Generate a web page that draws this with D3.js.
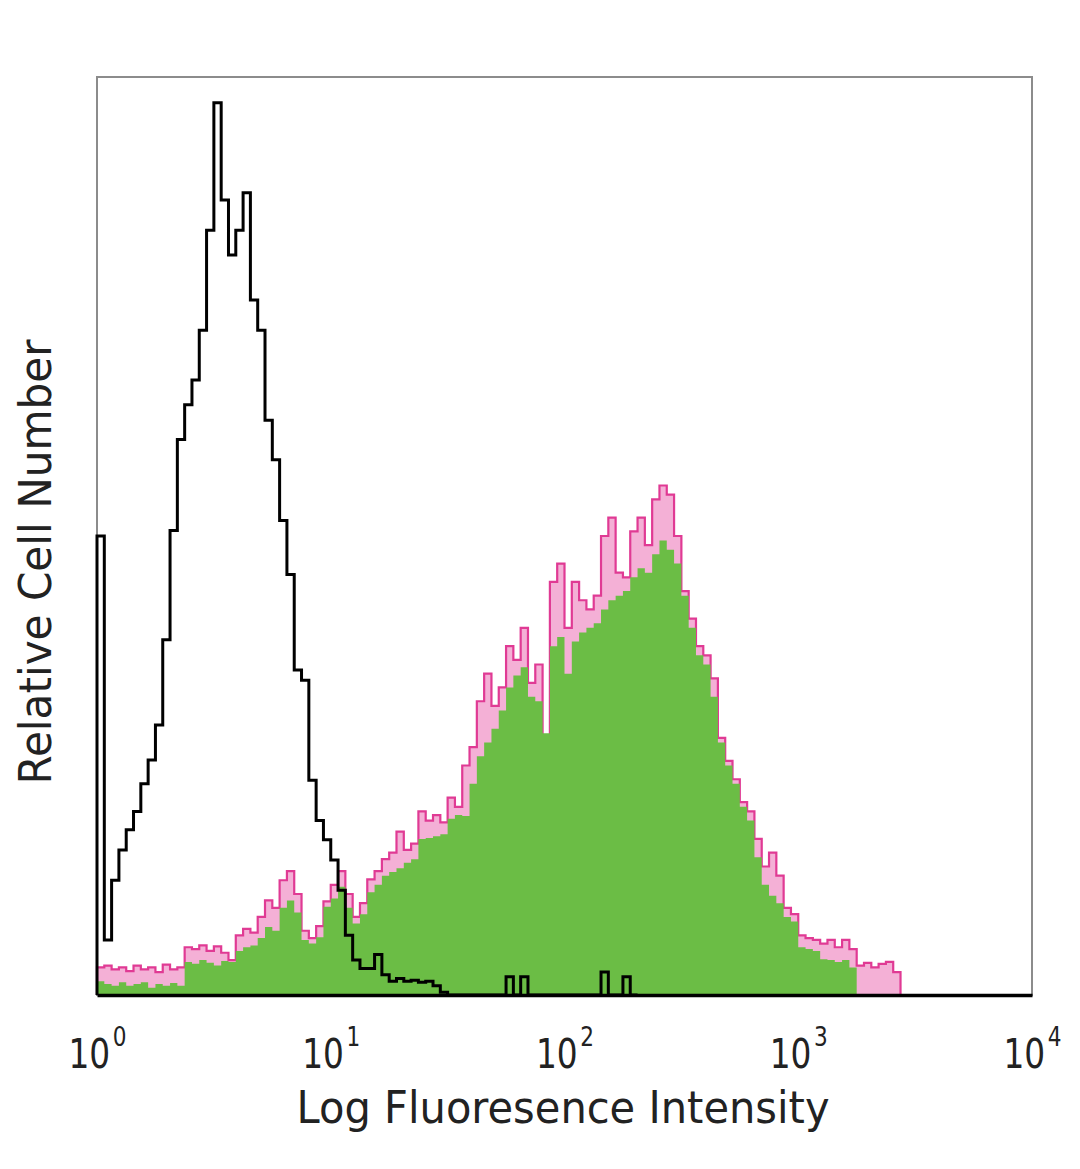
<!DOCTYPE html>
<html>
<head>
<meta charset="utf-8">
<script src="https://cdn.jsdelivr.net/npm/d3@7"></script>
<style>
  html, body { margin: 0; padding: 0; background: #fff; }
  svg { display: block; }
  text { font-family: "DejaVu Sans", Verdana, sans-serif; fill: #222; }
</style>
</head>
<body>
<svg id="chart" width="1080" height="1169"></svg>
<script>
// ---- data (channel histograms, 32 channels per decade) ----
const tickValues = [1, 10, 100, 1000, 10000];
const xLabel = "Log Fluoresence Intensity";
const yLabel = "Relative Cell Number";

const isotypeCounts = [50, 6, 12.5, 15.8, 18, 20, 23, 25.6, 29.4, 38.7, 50.6, 60.5, 64.3, 67, 72.4, 83.3,
  97.2, 86.6, 80.6, 83.3, 87.4, 75.7, 72.4, 62.6, 58.3, 51.7, 45.8, 35.4, 34.3, 23.4, 19, 16.9,
  14.7, 11.4, 6.5, 3.8, 2.9, 2.9, 4.4, 2.2, 1.5, 1.8, 1.5, 1.6, 1.4, 1.5, 1.0, 0.3,
  0, 0, 0, 0, 0, 0, 0, 0, 2, 0, 2, 0, 0, 0, 0, 0,
  0, 0, 0, 0, 0, 2.5, 0, 0, 2, 0];

const stainedOutline = [3, 3.2, 2.8, 3.0, 2.6, 3.2, 2.8, 3.0, 2.5, 3.3, 2.8, 3.0,
  5.2, 5.0, 5.4, 4.8, 5.3, 4.6, 3.8, 6.5, 7.2, 6.8, 8.5, 10.3, 9.5,
  12.5, 13.5, 11, 7.0, 6.2, 7.5, 10.2, 12.0, 13.5, 11.0, 8.5, 10.0,
  12.6, 13.5, 14.8, 15.5, 17.8, 15.8, 16.5, 20.0, 19.0, 19.6, 18.8, 21.5, 20.5,
  25.0, 27.0, 32.0, 35.0, 31.5, 33.5, 38.0, 36.5, 40.0, 34.0, 36.0, 28.0,
  45.0, 47.0, 40.0, 45.0, 43.0, 42.0, 43.5, 50.0, 52.0, 46.0, 45.5, 50.5, 52.0, 49.0,
  54.0, 55.5, 54.5, 50.0, 44.0, 41.0, 38.0, 37.0, 34.5, 28.0, 25.5, 23.5,
  21.0, 20.0, 17.0, 14.0, 15.5, 13.0, 9.5, 8.8, 6.5, 6.2, 6.0, 5.6,
  6.0, 5.2, 6.0, 5.0, 3.2, 3.5, 3.0, 3.4, 3.6, 2.5];

const stainedFill = [1.5, 1.2, 1.0, 1.4, 1.0, 1.2, 1.4, 0.8, 1.2, 1.0, 1.3, 1.0,
  3.6, 3.4, 3.8, 3.5, 3.2, 3.7, 3.6, 4.8, 5.2, 5.4, 6.2, 7.4, 7.0,
  9.5, 10.3, 9, 6.0, 5.6, 6.3, 9.6, 10.5, 11.8, 9.5, 7.8, 8.8,
  11.2, 12.0, 13.0, 13.4, 13.8, 14.4, 14.8, 17.0, 17.1, 17.3, 17.5, 19.2, 19.6,
  19.5, 23.0, 26.0, 27.5, 29.0, 31.0, 33.5, 34.8, 35.7, 32.5, 32.0, 28.5,
  38.0, 39.0, 35.0, 38.5, 39.5, 40.0, 40.5, 42.0, 43.0, 43.5, 44.0, 45.5, 46.5, 46.0,
  48.0, 49.5, 48.5, 47.0, 43.5, 40.0, 37.0, 36.0, 32.5, 27.5, 25.0, 23.0,
  20.5, 19.0, 15.0, 12.0, 10.8, 10.0, 8.5, 8.0, 5.2, 5.0, 4.8, 3.9,
  3.8, 3.6, 3.8, 3.0];

const channelsPerDecade = 32;

// ---- layout ----
const svg = d3.select("#chart");
const plotLeft = 97, plotRight = 1032, plotTop = 77, plotBottom = 995;

const x = d3.scaleLog().domain([1, 10000]).range([plotLeft, plotRight]);
const y = d3.scaleLinear().domain([0, 100]).range([plotBottom, plotTop]);

const edge = i => Math.pow(10, i / channelsPerDecade);

function stepPoints(vals) {
  const pts = [{ x: edge(0), v: 0 }];
  vals.forEach((v, i) => pts.push({ x: edge(i), v }));
  pts.push({ x: edge(vals.length), v: 0 });
  return pts;
}

const area = d3.area()
  .curve(d3.curveStepAfter)
  .x(d => x(d.x))
  .y0(y(0))
  .y1(d => y(d.v));

const line = d3.line()
  .curve(d3.curveStepAfter)
  .x(d => x(d.x))
  .y(d => y(d.v));

svg.append("rect").attr("width", 1080).attr("height", 1169).attr("fill", "#fff");

// frame
svg.append("rect")
  .attr("x", plotLeft).attr("y", plotTop)
  .attr("width", plotRight - plotLeft).attr("height", plotBottom - plotTop)
  .attr("fill", "none").attr("stroke", "#8c8c8c").attr("stroke-width", 2);

// stained: pink outline under green fill
const pinkPts = stepPoints(stainedOutline);
svg.append("path").datum(pinkPts)
  .attr("d", area).attr("fill", "#f4b0d6");
svg.append("path").datum(pinkPts)
  .attr("d", line).attr("fill", "none")
  .attr("stroke", "#e03a94").attr("stroke-width", 2.2);

svg.append("path").datum(stepPoints(stainedFill))
  .attr("d", area).attr("fill", "#6bbd45");

// isotype control black line
svg.append("path").datum(stepPoints(isotypeCounts))
  .attr("d", line).attr("fill", "none")
  .attr("stroke", "#000").attr("stroke-width", 3)
  .attr("stroke-linejoin", "miter");

// bottom axis
const axis = d3.axisBottom(x)
  .tickValues(tickValues)
  .tickSize(0)
  .tickFormat(() => "");

const gx = svg.append("g")
  .attr("transform", `translate(0,${plotBottom})`)
  .call(axis);

gx.select(".domain").attr("stroke", "#000").attr("stroke-width", 3.5);

const sx = 0.8;
const tickText = gx.selectAll(".tick text")
  .attr("transform", `scale(${sx},1)`)
  .attr("x", -29 / sx)
  .attr("y", 73).attr("dy", 0)
  .attr("text-anchor", "start")
  .attr("fill", "#222")
  .style("font-family", "'DejaVu Sans', Verdana, sans-serif");
tickText.append("tspan")
  .attr("font-size", 41)
  .text("10");
tickText.append("tspan")
  .attr("font-size", 27)
  .attr("dx", 3)
  .attr("dy", -22)
  .text(d => Math.round(Math.log10(d)));

// axis titles
svg.append("text")
  .attr("x", 563).attr("y", 1123)
  .attr("text-anchor", "middle")
  .attr("font-size", 44)
  .attr("textLength", 533)
  .attr("lengthAdjust", "spacingAndGlyphs")
  .text(xLabel);

svg.append("text")
  .attr("transform", "translate(51,562) rotate(-90)")
  .attr("text-anchor", "middle")
  .attr("font-size", 44)
  .attr("textLength", 445)
  .attr("lengthAdjust", "spacingAndGlyphs")
  .text(yLabel);
</script>
</body>
</html>
